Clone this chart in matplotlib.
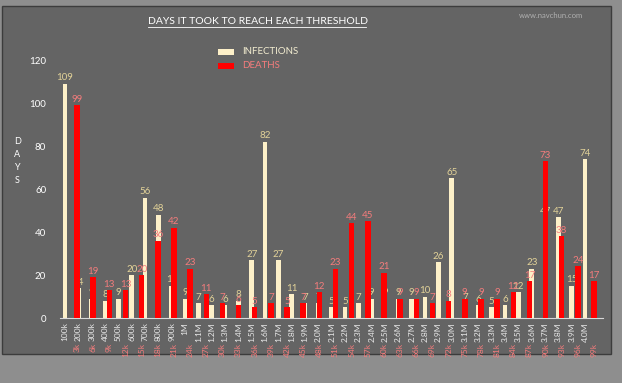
import numpy as np
import matplotlib
matplotlib.use("Agg")
import matplotlib.pyplot as plt
from matplotlib.patches import Rectangle

plt.rcParams['font.family'] = ['Lato', 'DejaVu Sans']

# infections thresholds and days taken
inf_labels = ["100k", "200k", "300k", "400k", "500k", "600k", "700k", "800k", "900k",
              "1M", "1.1M", "1.2M", "1.3M", "1.4M", "1.5M", "1.6M", "1.7M", "1.8M", "1.9M",
              "2.0M", "2.1M", "2.2M", "2.3M", "2.4M", "2.5M", "2.6M", "2.7M", "2.8M", "2.9M",
              "3.0M", "3.1M", "3.2M", "3.3M", "3.4M", "3.5M", "3.6M", "3.7M", "3.8M", "3.9M", "4.0M"]
inf_days = [109, 14, 9, 8, 9, 20, 56, 48, 15,
            9, 7, 6, 6, 8, 27, 82, 27, 11, 7,
            7, 5, 5, 7, 9, 9, 9, 9, 10, 26,
            65, 7, 6, 5, 6, 12, 23, 47, 47, 15, 74]

# deaths thresholds and days taken
death_labels = ["3k", "6k", "9k", "12k", "15k", "18k", "21k", "24k", "27k", "30k",
                "33k", "36k", "39k", "42k", "45k", "48k", "51k", "54k", "57k", "60k",
                "63k", "66k", "69k", "72k", "75k", "78k", "81k", "84k", "87k", "90k",
                "93k", "96k", "99k"]
death_days = [99, 19, 13, 13, 20, 36, 42, 23, 11, 7,
              6, 5, 7, 5, 7, 12, 23, 44, 45, 21,
              9, 9, 7, 8, 9, 9, 9, 12, 17, 73,
              38, 24, 17]

cream = "#fdf0c8"
red = "#ff0000"
cream_txt = "#e2d298"
pink_txt = "#f47c7c"
bg = "#646464"

fig = plt.figure(figsize=(6.22, 3.83), dpi=100)
fig.patch.set_facecolor("#8e8e8e")
fig.add_artist(Rectangle((0.003, 0.075), 0.98, 0.91, transform=fig.transFigure,
                         facecolor=bg, edgecolor="#3c3c3c", lw=1.0, zorder=-5))

ax = fig.add_axes([0.0965, 0.1697, 0.873, 0.6736])
ax.set_facecolor("none")
x1 = np.arange(len(inf_days))
b1 = ax.bar(x1, inf_days, width=0.34, color=cream)
ax.bar_label(b1, padding=1, fontsize=7, color=cream_txt)
ax.set_xlim(-0.375, 40.35)
ax.set_ylim(0, 120)
ax.set_yticks(range(0, 121, 20))
ax.set_xticks(x1)
ax.set_xticklabels(inf_labels, rotation=90, fontsize=6, color="#e8e8e8")
ax.tick_params(axis="both", length=0)
ax.tick_params(axis="x", pad=3)
ax.tick_params(axis="y", colors="white", labelsize=7, pad=10)
for s in ["top", "right", "left"]:
    ax.spines[s].set_visible(False)
ax.spines["bottom"].set_color("#d8d8d8")

ax2 = ax.twiny()
x2 = np.arange(len(death_days))
b2 = ax2.bar(x2, death_days, width=0.34, color=red)
ax2.bar_label(b2, padding=1, fontsize=7, color=pink_txt)
ax2.set_xlim(-1.052, 32.557)
ax2.xaxis.set_ticks_position("bottom")
ax2.set_xticks(x2)
ax2.set_xticklabels(death_labels, rotation=90, fontsize=6, color=pink_txt, va="top")
ax2.tick_params(axis="x", length=0, pad=18)
for s in ax2.spines.values():
    s.set_visible(False)

fig.text(0.028, 0.58, "D\nA\nY\nS", color="white", fontsize=6.5, ha="center",
         va="center", linespacing=1.6)
fig.text(0.414, 0.945, "DAYS IT TOOK TO REACH EACH THRESHOLD", color="white",
         fontsize=7.5, ha="center", va="center")
fig.add_artist(plt.Line2D([0.238, 0.589], [0.93, 0.93], color="white", lw=0.6))
fig.text(0.886, 0.96, "www.navchun.com", color="#b0b0b0", fontsize=5.5,
         ha="center", va="center")

# legend
fig.add_artist(Rectangle((0.350, 0.856), 0.026, 0.016, transform=fig.transFigure,
                         facecolor=cream, edgecolor="none"))
fig.add_artist(Rectangle((0.350, 0.819), 0.026, 0.016, transform=fig.transFigure,
                         facecolor=red, edgecolor="none"))
fig.text(0.389, 0.865, "INFECTIONS", color="#f2ecd0", fontsize=7, va="center")
fig.text(0.389, 0.830, "DEATHS", color=pink_txt, fontsize=7, va="center")

fig.savefig("out.png", dpi=100, facecolor=fig.get_facecolor())
